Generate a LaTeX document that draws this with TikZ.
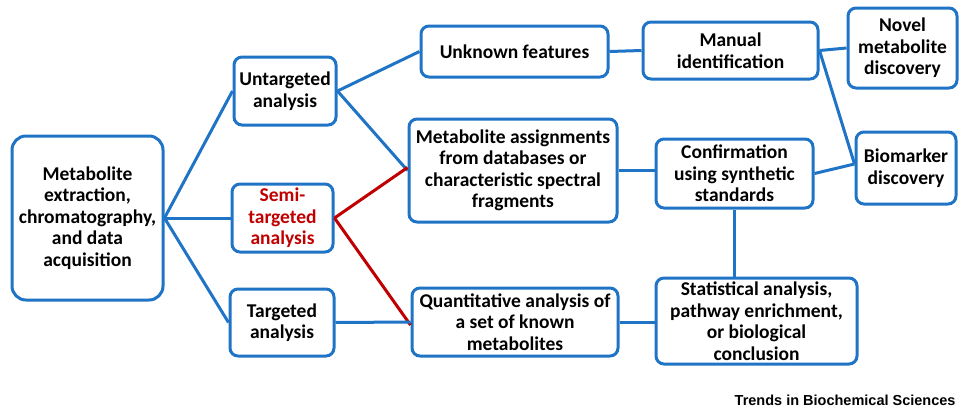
\documentclass[tikz,border=0pt]{standalone}
\usepackage{fontspec}
\setmainfont{Carlito}
\newfontfamily\journalfont{Liberation Sans}
\definecolor{myBlue}{HTML}{1F74C6}
\definecolor{myRed}{HTML}{C00000}

\begin{document}
\begin{tikzpicture}[x=1pt, y=-1pt, line width=3pt, myBlue]
  \tikzstyle{B}=[draw=myBlue, fill=white, rounded corners=8pt, align=center, text=black, font=\bfseries\fontsize{19.5}{21.5}\selectfont, inner sep=1pt]
  \tikzstyle{R}=[B, text=myRed]
  \tikzstyle{J}=[text=black, font=\journalfont\bfseries\fontsize{14.5}{16}\selectfont, inner sep=0pt]

  \useasboundingbox (0,0) rectangle (959,413);

  \node[B, rounded corners=14pt, minimum width=151pt, minimum height=164pt] at (87.5,218) (extract) {Metabolite\\extraction,\\chromatography,\\and data\\acquisition};

  \node[B, minimum width=102pt, minimum height=68pt] at (285,91) (untarg) {Untargeted\\analysis};
  \node[R, minimum width=101pt, minimum height=68pt] at (282.5,218) (semi) {Semi-\\targeted\\analysis};
  \node[B, minimum width=104pt, minimum height=67pt] at (282,322.5) (targ) {Targeted\\analysis};

  \node[B, minimum width=187pt, minimum height=51pt] at (514.5,51.5) (unknown) {Unknown features};
  \node[B, minimum width=208pt, minimum height=103pt] at (513,170.5) (assign) {Metabolite assignments\\from databases or\\characteristic spectral\\fragments};
  \node[B, minimum width=206pt, minimum height=68pt] at (515,322) (quant) {Quantitative analysis of\\a set of known\\metabolites};

  \node[B, minimum width=175pt, minimum height=57pt] at (730.5,50.5) (manual) {Manual\\identification};
  \node[B, minimum width=157pt, minimum height=69pt] at (734.5,173.5) (confirm) {Confirmation\\using synthetic\\standards};
  \node[B, minimum width=201pt, minimum height=86pt] at (756.5,321) (stats) {Statistical analysis,\\pathway enrichment,\\or biological\\conclusion};

  \node[B, minimum width=109pt, minimum height=80pt] at (902.5,48) (novel) {Novel\\metabolite\\discovery};
  \node[B, minimum width=100pt, minimum height=72pt] at (906,168) (biomark) {Biomarker\\discovery};

  \node[J, anchor=east] at (957,400) (journal) {Trends in Biochemical Sciences};

  \draw (extract.east) to (untarg.west);
  \draw (extract.east) to (semi.west);
  \draw (extract.east) to (targ.west);
  \draw (untarg.east) to (unknown.west);
  \draw (untarg.east) to (assign.west);
  \draw [myRed] (semi.east) to ([yshift=3pt]assign.west);
  \draw [myRed] (semi.east) to ([yshift=-3pt]quant.west);
  \draw (targ.east) to (quant.west);
  \draw (unknown.east) to (manual.west);
  \draw (manual.east) to (novel.west);
  \draw (manual.east) to ([yshift=4pt]biomark.west);
  \draw (assign.east) to (confirm.west |- assign.east);
  \draw (confirm.east) to ([yshift=4pt]biomark.west);
  \draw (confirm.south) to (confirm.south |- stats.north);
  \draw (quant.east) to (stats.west |- quant.east);
\end{tikzpicture}
\end{document}
